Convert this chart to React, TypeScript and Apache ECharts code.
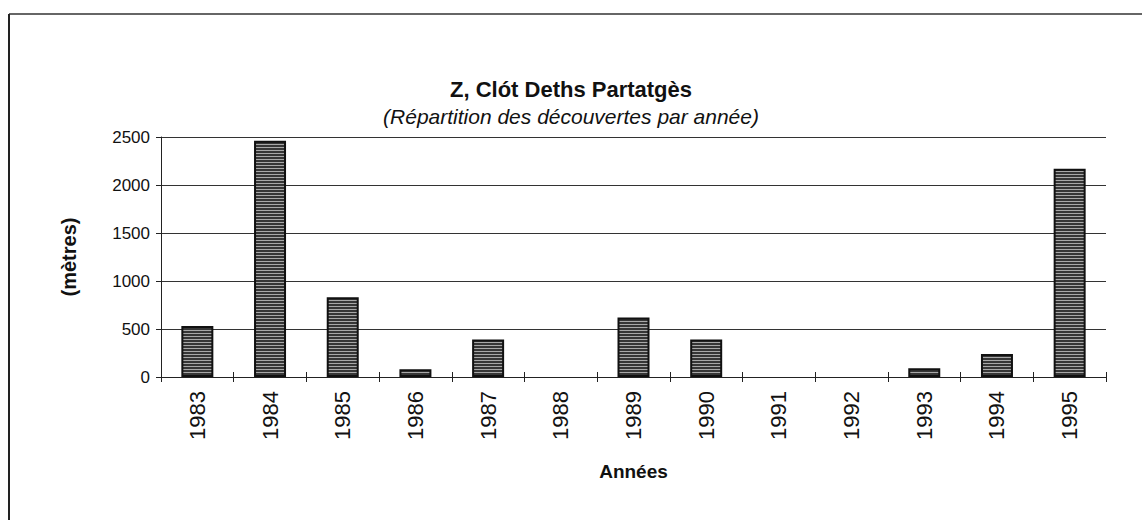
import React, { useEffect, useRef } from "react";
import * as echarts from "echarts";

const years = ["1983", "1984", "1985", "1986", "1987", "1988", "1989", "1990", "1991", "1992", "1993", "1994", "1995"];
const metres = [530, 2460, 830, 80, 390, 0, 620, 390, 0, 0, 90, 240, 2170];
const titleText = "Z, Clót Deths Partatgès";
const subtitleText = "(Répartition des découvertes par année)";
const yAxisName = "(mètres)";
const xAxisName = "Années";

const FONT = "'Liberation Sans', Arial, sans-serif";

function makePattern(): any {
  const c = document.createElement("canvas");
  c.width = 4;
  c.height = 3;
  const ctx = c.getContext("2d");
  if (ctx) {
    ctx.fillStyle = "#363636";
    ctx.fillRect(0, 0, 4, 3);
    ctx.fillStyle = "#a8a8a8";
    ctx.fillRect(0, 0, 4, 1);
  }
  return { image: c, repeat: "repeat" };
}

export default function App() {
  const ref = useRef<HTMLDivElement>(null);
  useEffect(() => {
    if (!ref.current) return;
    const chart = echarts.init(ref.current, null, { renderer: "svg" });
    let fill: any = "#5a5a5a";
    try {
      fill = makePattern();
    } catch (e) {
      fill = "#5a5a5a";
    }
    chart.setOption({
      animation: false,
      backgroundColor: "#ffffff",
      title: [
        {
          text: titleText,
          left: "center",
          top: 78,
          padding: 0,
          textStyle: { fontSize: 22, fontWeight: "bold", fontFamily: FONT, color: "#111" },
        },
        {
          text: subtitleText,
          left: "center",
          top: 106,
          padding: 0,
          textStyle: { fontSize: 21, fontWeight: "normal", fontStyle: "italic", fontFamily: FONT, color: "#111" },
        },
      ],
      graphic: [
        { type: "line", shape: { x1: 9, y1: 14, x2: 1142, y2: 14 }, style: { stroke: "#666", lineWidth: 2 } },
        { type: "line", shape: { x1: 9, y1: 14, x2: 9, y2: 520 }, style: { stroke: "#222", lineWidth: 2 } },
      ],
      grid: { left: 161, right: 36, top: 137, bottom: 143, containLabel: false },
      xAxis: [
        {
          type: "category",
          data: years,
          position: "bottom",
          name: xAxisName,
          nameLocation: "middle",
          nameGap: 85,
          nameTextStyle: { fontSize: 19, fontWeight: "bold", fontFamily: FONT, color: "#111" },
          axisLine: { show: true, lineStyle: { color: "#222", width: 1 } },
          axisTick: { show: true, alignWithLabel: false, length: 5, lineStyle: { color: "#222" } },
          axisLabel: { rotate: 90, fontSize: 22, fontFamily: FONT, color: "#111", margin: 14 },
        },
        {
          type: "category",
          data: years,
          position: "bottom",
          axisLine: { show: false },
          axisTick: { show: true, inside: true, length: 5, lineStyle: { color: "#222" } },
          axisLabel: { show: false },
        },
      ],
      yAxis: {
        type: "value",
        min: 0,
        max: 2500,
        interval: 500,
        name: yAxisName,
        nameLocation: "middle",
        nameGap: 82,
        nameRotate: 90,
        nameTextStyle: { fontSize: 20, fontWeight: "bold", fontFamily: FONT, color: "#111" },
        axisLine: { show: true, lineStyle: { color: "#222", width: 1 } },
        axisTick: { show: true, length: 5, lineStyle: { color: "#222" } },
        axisLabel: {
          fontSize: 17,
          fontFamily: FONT,
          color: "#111",
          margin: 11,
          formatter: (v: number) => String(v),
        },
        splitLine: { show: true, lineStyle: { color: "#333", width: 1 } },
      },
      series: [
        {
          type: "bar",
          data: metres.map((v) => ({ value: v, itemStyle: v === 0 ? { borderWidth: 0 } : undefined })),
          barWidth: 32,
          itemStyle: { color: fill, borderColor: "#111", borderWidth: 2 },
        },
      ],
    });
    return () => chart.dispose();
  }, []);
  return (
    <div
      ref={ref}
      style={{ position: "fixed", left: 0, top: 0, width: 1142, height: 520, background: "#fff" }}
    />
  );
}
